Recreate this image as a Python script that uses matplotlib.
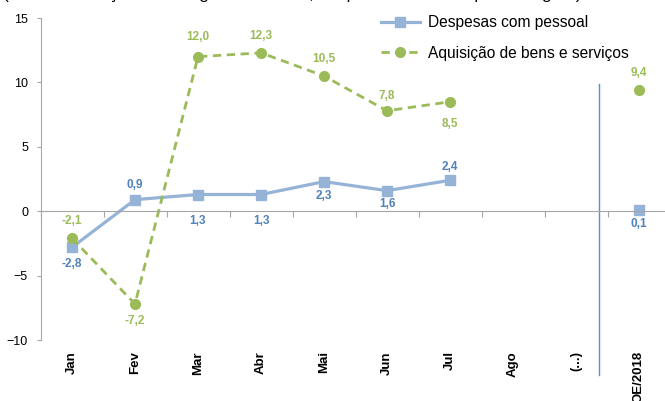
import matplotlib
matplotlib.use('Agg')
import matplotlib.pyplot as plt
import numpy as np

plt.rcParams['font.family'] = ['Liberation Sans', 'DejaVu Sans']

# ── Data ──
months = ['Jan', 'Fev', 'Mar', 'Abr', 'Mai', 'Jun', 'Jul', 'Ago', '(...)', 'OE/2018']
pessoal = [-2.8, 0.9, 1.3, 1.3, 2.3, 1.6, 2.4, np.nan, np.nan, 0.1]
aquisicao = [-2.1, -7.2, 12.0, 12.3, 10.5, 7.8, 8.5, np.nan, np.nan, 9.4]
# label offsets in pixels (positive = above the point)
pessoal_off = [-17, 15, -26, -26, -14, -13, 13, 0, 0, -14]
aquisicao_off = [17, -17, 20, 17, 17, 15, -22, 0, 0, 17]

BLUE = '#95B3D7'
BLUE_TXT = '#4F81BD'
GREEN = '#9BBB59'
GRAY = '#A6A6A6'

fig = plt.figure(figsize=(6.65, 4.01), dpi=100)
ax = fig.add_axes([40.5 / 665, 0.152, 630 / 665, 0.803])

x = np.arange(len(months))
# OE/2018 values are not joined to the monthly series
ax.plot(x[:7], pessoal[:7], color=BLUE, lw=2.3, marker='s', ms=7, label='Despesas com pessoal')
ax.plot(x[9:], pessoal[9:], color=BLUE, lw=0, marker='s', ms=7)
ax.plot(x[:7], aquisicao[:7], color=GREEN, lw=2.0, ls=(0, (3, 2)), marker='o', ms=7,
        label='Aquisição de bens e serviços')
ax.plot(x[9:], aquisicao[9:], color=GREEN, lw=0, marker='o', ms=7)

for xi, v, o in zip(x, pessoal, pessoal_off):
    if np.isnan(v):
        continue
    ax.annotate(f'{v:.1f}'.replace('.', ','), (xi, v), xytext=(0, o), textcoords='offset pixels',
                ha='center', va='center', fontsize=8.5, fontweight='bold', color=BLUE_TXT)
for xi, v, o in zip(x, aquisicao, aquisicao_off):
    if np.isnan(v):
        continue
    ax.annotate(f'{v:.1f}'.replace('.', ','), (xi, v), xytext=(0, o), textcoords='offset pixels',
                ha='center', va='center', fontsize=8.5, fontweight='bold', color=GREEN)

# separator between the months and the budget column
ax.plot([8.36, 8.36], [9.9, -12.7], color='#5B8ED0', lw=1, clip_on=False)

ax.set_xlim(-0.5, 9.5)
ax.set_ylim(-10, 15)
ax.set_yticks([-10, -5, 0, 5, 10, 15])
ax.tick_params(axis='y', labelsize=9, length=3, color=GRAY, pad=6)

for s in ('top', 'right'):
    ax.spines[s].set_visible(False)
ax.spines['left'].set_color(GRAY)
ax.spines['bottom'].set_position(('data', 0))
ax.spines['bottom'].set_color(GRAY)
ax.set_xticks(np.arange(-0.5, 10, 1))
ax.set_xticklabels([])
ax.tick_params(axis='x', length=4, color=GRAY)

sec = ax.secondary_xaxis('bottom')
sec.set_xticks(x)
sec.set_xticklabels(months, rotation=90, fontsize=9.5, fontweight='bold')
sec.tick_params(length=0, pad=8)
sec.spines['bottom'].set_visible(False)

ax.legend(loc='upper left', bbox_to_anchor=(0.518, 1.052), frameon=False, fontsize=11.2,
          handlelength=2.5, labelspacing=1.0, handletextpad=0.5)

fig.text(0.005, 1 + 1 / 401, '(taxa de variação homóloga acumulada, despesa efetiva em percentagem)',
         fontsize=12.5, va='baseline', ha='left')

fig.savefig('out.png', dpi=100)
